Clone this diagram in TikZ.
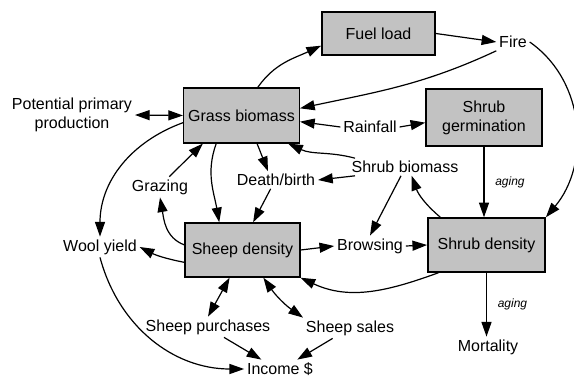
\documentclass[tikz,border=0pt]{standalone}
\usepackage{fontspec}
\setmainfont{Liberation Sans}
\usetikzlibrary{arrows.meta}

\begin{document}
\begin{tikzpicture}[
x=0.75pt, y=-0.75pt,
stocknode/.style={rectangle, draw=black, fill=black!24, line width=1.1pt, align=center, font=\fontsize{12}{14.3}\selectfont},
varnode/.style={inner sep=2pt, align=center, font=\fontsize{12}{14.3}\selectfont},
agelabel/.style={font=\fontsize{9}{10}\selectfont\itshape, right, inner sep=8pt},
>={Triangle[length=11pt, width=7.5pt]},
]
\useasboundingbox (0,0) rectangle (574,378);

% Defining the stock nodes
\node[stocknode, minimum width=86pt, minimum height=41pt] (grass) at (241.5,115.5) {Grass biomass};
\node[stocknode, minimum width=85pt, minimum height=32pt] (fuel) at (378.5,33.5) {Fuel load};
\node[stocknode, minimum width=87pt, minimum height=43pt] (germ) at (484,117.5) {Shrub\\germination};
\node[stocknode, minimum width=88pt, minimum height=40.5pt] (shrubd) at (486.5,245) {Shrub density};
\node[stocknode, minimum width=86pt, minimum height=40.5pt] (sheep) at (242.5,250) {Sheep density};

% Defining the other variables
\node[varnode] (ppp) at (72,115) {Potential primary\\production};
\node[varnode] (fire) at (513,42) {Fire};
\node[varnode] (rain) at (370,127) {Rainfall};
\node[varnode] (shrubb) at (405,167) {Shrub biomass};
\node[varnode] (death) at (276,180) {Death/birth};
\node[varnode] (grazing) at (160,187) {Grazing};
\node[varnode] (wool) at (100,247) {Wool yield};
\node[varnode] (browsing) at (370,246) {Browsing};
\node[varnode] (purch) at (208,327) {Sheep purchases};
\node[varnode] (sales) at (350,328) {Sheep sales};
\node[varnode] (income) at (280,369) {Income \$};
\node[varnode] (mortality) at (488,347) {Mortality};

% Fire and fuel
\draw[->, line width=0.9pt] (grass.60) to[out=55, in=205] (fuel.192);
\draw[->, line width=0.9pt] (fuel.east) -- (fire.west);
\draw[->, line width=0.9pt] (fire.south west) to[out=205, in=12] (grass.7);
\draw[->, line width=0.9pt] (fire.east) to[out=-35, in=50] (shrubd.north east);

% Grass biomass and its drivers
\draw[<->, line width=0.9pt] (ppp.east) -- (grass.west);
\draw[->, line width=0.9pt] (rain.west) -- (grass.-6);
\draw[->, line width=0.9pt] (rain.east) -- (germ.185);
\draw[->, line width=0.9pt] (shrubb.170) to[out=165, in=-25] (grass.-31);
\draw[->, line width=0.9pt] (shrubb.190) -- (death.east);
\draw[->, line width=0.9pt] ([xshift=-3pt]shrubb.south) -- (browsing.north);
\draw[->, line width=0.9pt] (shrubd.149) to[bend left=15] ([xshift=5pt]shrubb.south);

% Shrubs
\draw[->, line width=0.9pt] (germ.south) -- (germ.south |- shrubd.north) node[agelabel, midway] {aging};
\draw[->, line width=0.9pt] (browsing.east) -- (shrubd.west);
\draw[->, line width=0.9pt] (shrubd.south) -- (shrubd.south |- mortality.north) node[agelabel, midway] {aging};

% Sheep
\draw[->, line width=0.9pt] (sheep.east) -- (browsing.west);
\draw[->, line width=0.9pt] (shrubd.210) to[out=200, in=-25] (sheep.south east);
\draw[->, line width=0.9pt] (grass.228) to[out=250, in=100] (sheep.130);
\draw[->, line width=0.9pt] (grass.-61) -- ([xshift=-6pt]death.north);
\draw[->, line width=0.9pt] ([xshift=-4pt]death.south) -- (sheep.69);
\draw[->, line width=0.9pt] (sheep.175) to[out=160, in=-80] (grazing.south);
\draw[->, line width=0.9pt] ([xshift=7pt]grazing.north) -- (grass.216);

% Wool and income
\draw[->, line width=0.9pt] (grass.187) to[out=200, in=90] (wool.north);
\draw[->, line width=0.9pt] (sheep.192) to[bend left=8] (wool.east);
\draw[->, line width=0.9pt] (wool.south) to[out=-75, in=180] (income.west);
\draw[<->, line width=0.9pt] (sheep.245) -- (purch.north);
\draw[<->, line width=0.9pt] (sheep.-53) to[bend right=10] (sales.north west);
\draw[->, line width=0.9pt] ([xshift=12pt]purch.south) -- ([xshift=-14pt]income.north);
\draw[->, line width=0.9pt] ([xshift=-13pt]sales.south) -- ([xshift=13pt]income.north);

\end{tikzpicture}
\end{document}
